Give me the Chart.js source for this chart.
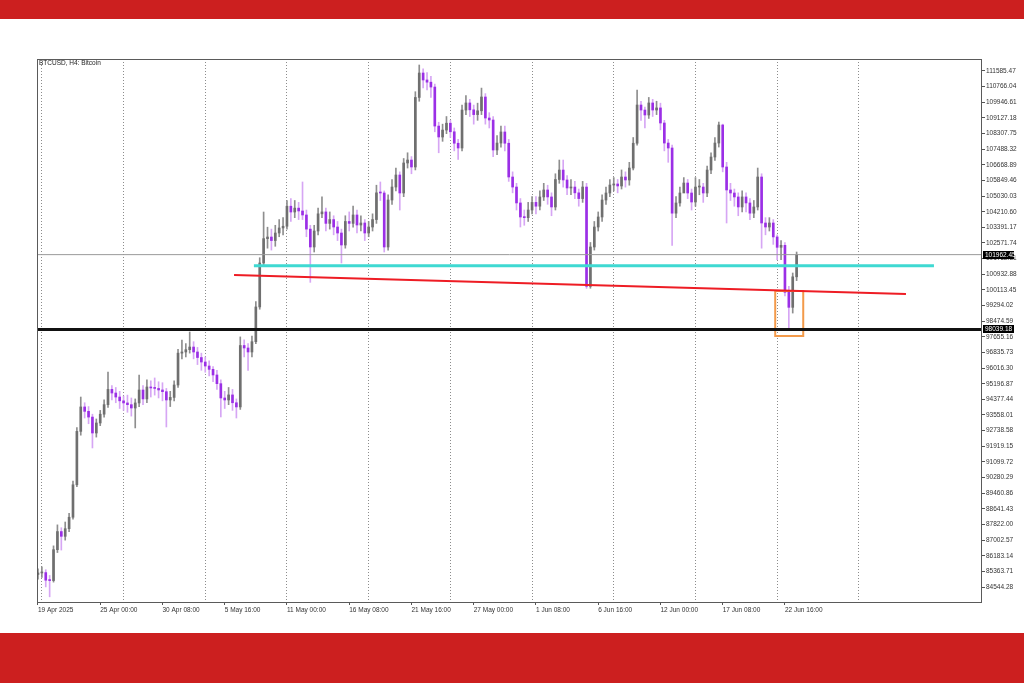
<!DOCTYPE html>
<html><head><meta charset="utf-8">
<script src="https://cdn.jsdelivr.net/npm/chart.js@4/dist/chart.umd.min.js"></script>
<style>html,body{margin:0;padding:0;background:#fff;overflow:hidden}#wrap{width:1024px;height:683px;position:relative}</style>
</head><body><div id="wrap"><canvas id="c" width="1024" height="683"></canvas></div>
<script>
// ---- data (BTCUSD, H4) ----
const firstOpen = 85200;
const closes = [
85280,85300,84900,84880,86500,87450,87200,87600,88200,89900,
92700,93980,93750,93450,92615,93140,93600,94100,94900,94710,
94500,94300,94190,94100,93925,94190,94868,94400,95025,94975,
94950,94870,94780,94345,94480,95130,96800,96860,96980,97120,
96860,96570,96335,96125,95950,95655,95200,94450,94345,94610,
94200,93980,97200,97070,96860,97400,99220,101525,102800,102885,
102700,103095,103360,103450,104500,104196,104400,104250,104040,103300,
102363,103200,104100,104200,103600,103800,103410,103095,102467,103700,
103600,104040,103515,103620,103095,103410,103800,105200,105192,102363,
104825,105505,106135,105192,106765,106920,106555,110200,111480,111115,
111000,110745,108700,108127,108490,108850,108400,107800,107550,109540,
109910,109550,109300,109500,110223,109122,109017,107445,107810,108390,
107800,106030,105505,104670,103935,103900,104300,104700,104500,104985,
105350,104985,104460,105900,106395,105875,105455,105505,105200,104900,
105505,100300,102363,103410,103935,104825,105192,105610,105665,105560,
106030,105875,106500,107800,109803,109540,109280,109910,109540,109650,
108860,107810,107550,104135,104670,105192,105715,105192,104720,105505,
105505,105192,106395,107078,107810,108755,106555,105350,105192,104985,
104460,104985,104670,104135,104460,106030,103620,103410,103620,102890,
102345,102450,99987,99200,100800,101962
];
const highs = [
85500,85600,85450,85150,86700,87800,87650,87950,88400,90100,
92900,94500,94200,94000,93600,93350,93800,94350,95810,95100,
95000,94800,94550,94600,94450,94400,95655,95100,95400,95350,
95500,95300,95250,94950,94800,95350,97000,97490,97300,97908,
97400,97100,96800,96600,96400,96100,95900,95400,94800,95000,
94900,94400,97650,97500,97300,97700,99500,101800,104196,103400,
103300,103500,103800,103900,104800,104900,104800,104700,105770,104300,
103500,103500,104400,104990,104400,104200,104000,103700,103300,104000,
104200,104500,104300,104000,103800,103700,104100,105600,105770,105300,
105100,105900,106500,106300,107000,107300,107100,110500,111900,111700,
111500,111300,110900,108900,108800,109200,109000,108600,108000,109800,
110300,110100,109800,109900,110690,110400,109400,109200,108200,108700,
108700,108000,106300,105700,104900,104300,104700,105000,105000,105300,
105700,105600,105200,106200,106920,106920,106100,105900,105800,105400,
105800,105700,102600,103700,104200,105100,105500,105900,106000,105900,
106400,106300,106800,108100,110590,110000,109700,110200,110100,110000,
109900,109000,108000,107700,105000,105500,106000,105900,105400,106000,
105900,105700,106600,107300,108100,108910,108800,106800,105700,105400,
105200,105300,105200,104900,104800,106500,106200,103900,103900,103800,
103000,102700,102600,100300,101000,102100
];
const lows = [
84950,85050,84550,84030,84800,86350,86480,87000,87450,88100,
89800,92500,93400,93100,91830,92400,93000,93450,93950,94350,
94200,93900,93800,93700,93500,92880,94000,94100,94200,94500,
94600,94450,94300,92930,94000,94300,95000,96500,96600,96800,
96500,96200,95900,95800,95600,95300,94900,93455,93900,94100,
93800,93400,93850,96600,95900,96600,97300,99100,101400,102300,
102200,102400,102900,103000,103300,103700,103900,103800,103800,102900,
100510,102100,103000,103900,103200,103300,103000,102700,101524,102300,
103200,103400,103100,103200,102700,102900,103200,103600,104800,102100,
102200,104600,105300,104300,105000,106500,106200,106400,110000,110700,
110600,110200,108400,107300,107900,108300,108100,107400,106950,107400,
109300,109200,108800,109000,109300,108800,108600,107100,107200,107600,
107400,105800,105200,104300,103410,103500,103700,104100,104100,104300,
104800,104600,104000,104300,105700,105500,105100,105100,104900,104500,
104700,100195,100200,102200,103200,103700,104600,105000,105300,105200,
105400,105500,105600,106400,107700,109000,108600,109100,109200,109300,
108500,107400,106800,102450,103900,104500,105400,104900,104300,104500,
105100,104700,105000,106200,106900,107600,106300,103620,104800,104500,
104000,104200,104200,103800,103900,104300,102300,103000,103200,102500,
101700,101700,99800,98117,98900,100600
];
const barStep = 2;                       // H4 bars per plotted candle
const xTickIndex  = [0,32,64,96,128,160,192,224,256,288,320,352,384];
const xTickLabels = ["19 Apr 2025","25 Apr 00:00","30 Apr 08:00","5 May 16:00","11 May 00:00","16 May 08:00","21 May 16:00","27 May 00:00","1 Jun 08:00","6 Jun 16:00","12 Jun 00:00","17 Jun 08:00","22 Jun 16:00"];
const weekGridIndex = [2,44,86,128,170,212,254,296,338,380,422];
const yTickValues = [111585.47,110766.04,109946.61,109127.18,108307.75,107488.32,106668.89,105849.46,105030.03,104210.60,103391.17,102571.74,101752.31,100932.88,100113.45,99294.02,98474.59,97655.16,96835.73,96016.30,95196.87,94377.44,93558.01,92738.58,91919.15,91099.72,90280.29,89460.86,88641.43,87822.00,87002.57,86183.14,85363.71,84544.28];
const xMin = -0.5, xMax = 485.3;
const yMin = 83758.2, yMax = 112214.3;
const currentPrice = 101962.45;
const blackLevel = 98039.18;
const cyanLineX = [111, 460.6], cyanLineY = [101385, 101385];
const redLineX = [100.8, 446.2], redLineY = [100894, 99899];
const orangeBoxX = [379, 393.4], orangeBoxY = [97698, 100056];
const titleText = "BTCUSD, H4: Bitcoin";

// ---- build ----
const opens = closes.map((c,i)=> i===0 ? firstOpen : closes[i-1]);
const isUp = closes.map((c,i)=> c >= opens[i]);
const wickData = closes.map((c,i)=>({x:i*barStep, y:[lows[i], highs[i]]}));
const bodyData = closes.map((c,i)=>({x:i*barStep, y:[Math.min(opens[i],c), Math.max(opens[i],c)]}));
const UP_BODY='#6f6f6f', UP_WICK='#8e8e8e', DN_BODY='#9b2fe6', DN_WICK='#d6a6f4';
const FONT = {family:'Liberation Sans', size:6.5};

function lineDs(xs, ys, color, width){
  return {type:'line', data: xs.map((x,i)=>({x:x, y:ys[i]})), borderColor:color, borderWidth:width,
    pointRadius:0, fill:false, tension:0, order:0};
}

const decor = {
  id:'decor',
  beforeDraw(chart){
    const ctx=chart.ctx;
    ctx.save();
    ctx.fillStyle='#ffffff'; ctx.fillRect(0,0,1024,683);
    ctx.fillStyle='#cc1f1f'; ctx.fillRect(0,0,1024,19); ctx.fillRect(0,633,1024,50);
    ctx.restore();
  },
  afterDraw(chart){
    const ctx=chart.ctx, a=chart.chartArea, y=chart.scales.y;
    ctx.save();
    ctx.strokeStyle='#5a5a5a'; ctx.lineWidth=1;
    ctx.strokeRect(a.left+0.5, a.top+0.5, a.right-a.left-1, a.bottom-a.top);
    ctx.font = '6.5px "Liberation Sans"';
    ctx.fillStyle='#222'; ctx.textBaseline='middle'; ctx.textAlign='left';
    ctx.fillText(titleText, a.left+2, a.top+4);
    [currentPrice, blackLevel].forEach(v=>{
      const py = Math.round(y.getPixelForValue(v));
      ctx.fillStyle='#000'; ctx.fillRect(a.right+1, py-4, 31, 8);
      ctx.fillStyle='#fff'; ctx.fillText(v.toFixed(2), a.right+3, py);
    });
    ctx.restore();
  }
};

new Chart(document.getElementById('c'), {
  type:'bar',
  data:{datasets:[
    lineDs([xMin,xMax],[currentPrice,currentPrice],'#9a9a9a',1),
    lineDs(cyanLineX, cyanLineY, '#3fd9d2', 3),
    lineDs(redLineX, redLineY, '#ee1c24', 2),
    lineDs([xMin,xMax],[blackLevel,blackLevel],'#111111',3),
    Object.assign(lineDs([orangeBoxX[0],orangeBoxX[1],orangeBoxX[1],orangeBoxX[0],orangeBoxX[0]],
      [orangeBoxY[1],orangeBoxY[1],orangeBoxY[0],orangeBoxY[0],orangeBoxY[1]], '#f39a4a', 2),{borderJoinStyle:'miter'}),
    {type:'bar', data:bodyData, backgroundColor:isUp.map(u=>u?UP_BODY:DN_BODY), barThickness:2, minBarLength:1, grouped:false, order:2},
    {type:'bar', data:wickData, backgroundColor:isUp.map(u=>u?UP_WICK:DN_WICK), barThickness:1, grouped:false, order:3}
  ]},
  options:{
    responsive:false, animation:false, devicePixelRatio:1,
    layout:{padding:{left:37, top:59, right:0, bottom:0}},
    plugins:{legend:{display:false}, tooltip:{enabled:false}, title:{display:false}},
    scales:{
      x:{type:'linear', position:'bottom', min:xMin, max:xMax, offset:false,
        afterBuildTicks:s=>{s.ticks = xTickIndex.map(v=>({value:v}));},
        afterFit:s=>{s.height=81;},
        grid:{display:true, offset:false, drawOnChartArea:false, drawTicks:true, tickLength:3, color:'#555'},
        border:{display:false},
        ticks:{autoSkip:false, maxRotation:0, minRotation:0, align:'start', padding:1, color:'#333', font:FONT,
          callback:v=>{const k=xTickIndex.indexOf(v); return k>=0?xTickLabels[k]:'';}}},
      xg:{type:'linear', position:'bottom', min:xMin, max:xMax, offset:false,
        afterBuildTicks:s=>{s.ticks = weekGridIndex.map(v=>({value:v}));},
        afterFit:s=>{s.height=0;},
        grid:{display:true, offset:false, drawOnChartArea:true, drawTicks:false, color:'#8c8c8c', lineWidth:1},
        border:{display:false, dash:[1,2]},
        ticks:{display:false}},
      y:{type:'linear', position:'right', min:yMin, max:yMax,
        afterBuildTicks:s=>{s.ticks = yTickValues.map(v=>({value:v}));},
        afterFit:s=>{s.width=42;},
        grid:{drawOnChartArea:false, drawTicks:true, tickLength:3, color:'#555'},
        border:{display:false},
        ticks:{padding:1, color:'#333', font:FONT, autoSkip:false, callback:v=>Number(v).toFixed(2)}}
    }
  },
  plugins:[decor]
});
</script></body></html>
